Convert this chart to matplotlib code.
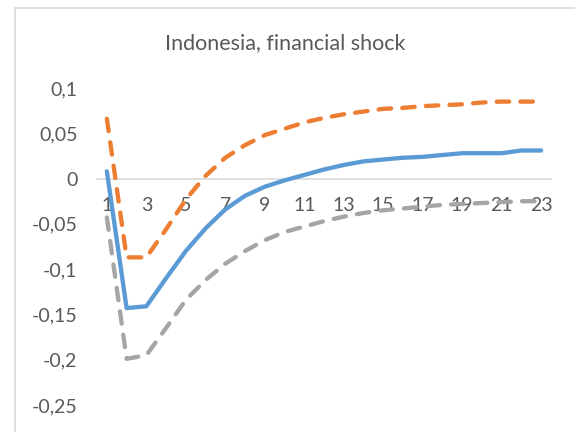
import matplotlib
matplotlib.use('Agg')
import matplotlib.pyplot as plt
from matplotlib.lines import Line2D

# impulse responses
periods = list(range(1, 24))
median = [0.008, -0.143, -0.141, -0.110, -0.080, -0.055, -0.034, -0.019, -0.009, -0.002,
          0.004, 0.010, 0.015, 0.019, 0.021, 0.023, 0.024, 0.026, 0.028, 0.028,
          0.028, 0.031, 0.031]
upper = [0.066, -0.087, -0.087, -0.056, -0.023, 0.003, 0.023, 0.037, 0.048, 0.055,
         0.062, 0.067, 0.071, 0.074, 0.077, 0.078, 0.080, 0.081, 0.082, 0.084,
         0.085, 0.085, 0.085]
lower = [-0.043, -0.199, -0.195, -0.165, -0.134, -0.112, -0.094, -0.080, -0.068, -0.059,
         -0.053, -0.047, -0.042, -0.038, -0.035, -0.033, -0.031, -0.029, -0.028, -0.027,
         -0.026, -0.025, -0.025]

xticks = list(range(1, 24, 2))
yticks = [0.1, 0.05, 0, -0.05, -0.1, -0.15, -0.2, -0.25]
ytick_labels = ['0,1', '0,05', '0', '-0,05', '-0,1', '-0,15', '-0,2', '-0,25']

plt.rcParams['font.family'] = ['Lato', 'DejaVu Sans']
txt = '#595959'

fig = plt.figure(figsize=(5.75, 4.32), dpi=100)
ax = fig.add_axes([97/575, 1 - 405/432, 454/575, 317/432])

lw = 3.1
ax.plot(periods, median, color='#5B9BD5', lw=lw, solid_capstyle='round',
        solid_joinstyle='round', zorder=3)
ax.plot(periods, upper, color='#ED7D31', lw=lw, dashes=(2.9, 2.6), dash_capstyle='round', zorder=3)
ax.plot(periods, lower, color='#A5A5A5', lw=lw, dashes=(2.9, 2.6), dash_capstyle='round', zorder=3)

ax.set_xlim(0.5, 23.5)
ax.set_ylim(-0.25, 0.1)
ax.set_xticks(xticks)
ax.set_yticks(yticks)
ax.set_yticklabels(ytick_labels)

for s in ['top', 'right', 'left']:
    ax.spines[s].set_visible(False)
ax.spines['bottom'].set_position(('data', 0))
ax.spines['bottom'].set_color('#D9D9D9')
ax.spines['bottom'].set_linewidth(1.2)
ax.tick_params(axis='x', length=0, pad=13, labelsize=14, colors=txt)
ax.tick_params(axis='y', length=0, pad=14, labelsize=14, colors=txt)
ax.patch.set_visible(False)

fig.text(285/575, 1 - 43/432, 'Indonesia, financial shock', ha='center', va='center',
         fontsize=15.5, color=txt)

# chart border (only left and top visible in the crop)
fig.add_artist(Line2D([15/575, 15/575], [0, 1 - 8/432], color='#D9D9D9', lw=1.2))
fig.add_artist(Line2D([15/575, 1], [1 - 8/432, 1 - 8/432], color='#D9D9D9', lw=1.2))

fig.savefig('out.png', dpi=100)
